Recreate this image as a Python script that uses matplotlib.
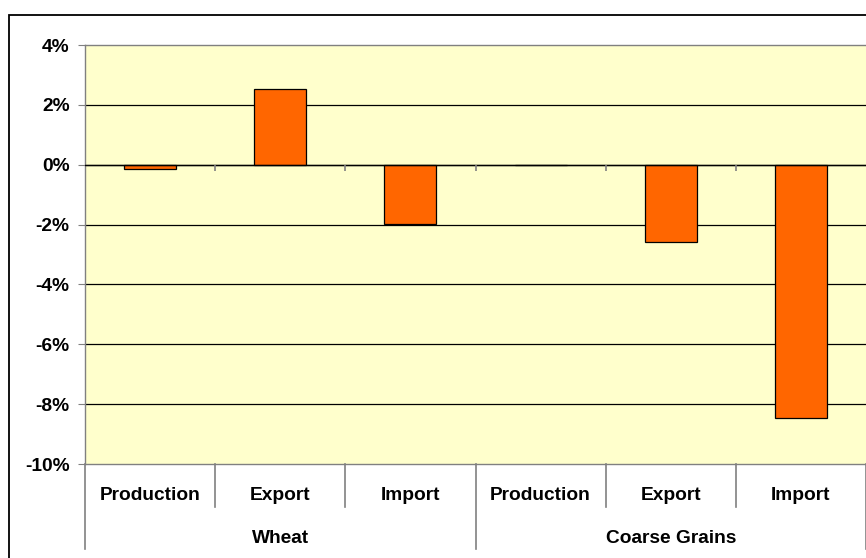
import matplotlib
matplotlib.use("Agg")
import matplotlib.pyplot as plt
from matplotlib.patches import Rectangle
from matplotlib.lines import Line2D
import numpy as np

plt.rcParams['font.family'] = ['Liberation Sans', 'DejaVu Sans']

groups = ["Wheat", "Coarse Grains"]
items = ["Production", "Export", "Import"]
values = [-0.14, 2.52, -1.97, 0.0, -2.57, -8.47]   # percent change
yticks = [-10, -8, -6, -4, -2, 0, 2, 4]

W, H = 866, 558
fig = plt.figure(figsize=(W / 100, H / 100), dpi=100)
fig.patch.set_facecolor("white")

# plot area in pixels: left 85, right 866, top 45, bottom 464
ax = fig.add_axes([85 / W, 1 - 464 / H, 781 / W, 419 / H])
ax.set_facecolor("#FFFFCC")

n = len(groups) * len(items)
x = np.arange(n) + 0.5
ax.bar(x, values, width=0.4, color="#FF6600", edgecolor="black", linewidth=0.9, zorder=3)

ax.set_xlim(0, n)
ax.set_ylim(-10, 4)
ax.set_yticks(yticks)
ax.set_yticklabels([f"{v}%" for v in yticks], fontsize=13.8, fontweight="bold")
ax.tick_params(axis="y", direction="out", length=5, color="#808080", pad=6)
ax.set_xticks([])

# gridlines
for v in yticks[1:-1]:
    ax.axhline(v, color="black", lw=0.9, zorder=1)
ax.axhline(0, color="black", lw=1.0, zorder=4)
# small category ticks on the zero line
ax.vlines(np.arange(1, n), 0, -0.2, color="#808080", lw=1.2, zorder=4)

for s in ax.spines.values():
    s.set_color("#808080")
    s.set_linewidth(1.0)
ax.spines["right"].set_visible(False)

# category labels and separators below the plot
tr = ax.get_xaxis_transform()
for i in range(n):
    ax.text(x[i], -0.0745, items[i % len(items)], transform=tr, ha="center", va="center",
            fontsize=13.8, fontweight="bold")
for i in range(n + 1):
    depth = -0.2029 if i % len(items) == 0 else -0.1026
    ax.add_line(Line2D([i, i], [0, depth], transform=tr, color="#808080", lw=1.2, clip_on=False))
for g, name in enumerate(groups):
    cx = g * len(items) + len(items) / 2
    ax.text(cx, -0.178, name, transform=tr, ha="center", va="center",
            fontsize=13.8, fontweight="bold")

# outer chart border (cut at right and bottom)
fig.patches.append(Rectangle((9 / W, -0.1), 1.2, (1 - 15 / H) + 0.1, transform=fig.transFigure,
                             fill=False, edgecolor="black", lw=1.3))

fig.savefig("out.png", dpi=100)
